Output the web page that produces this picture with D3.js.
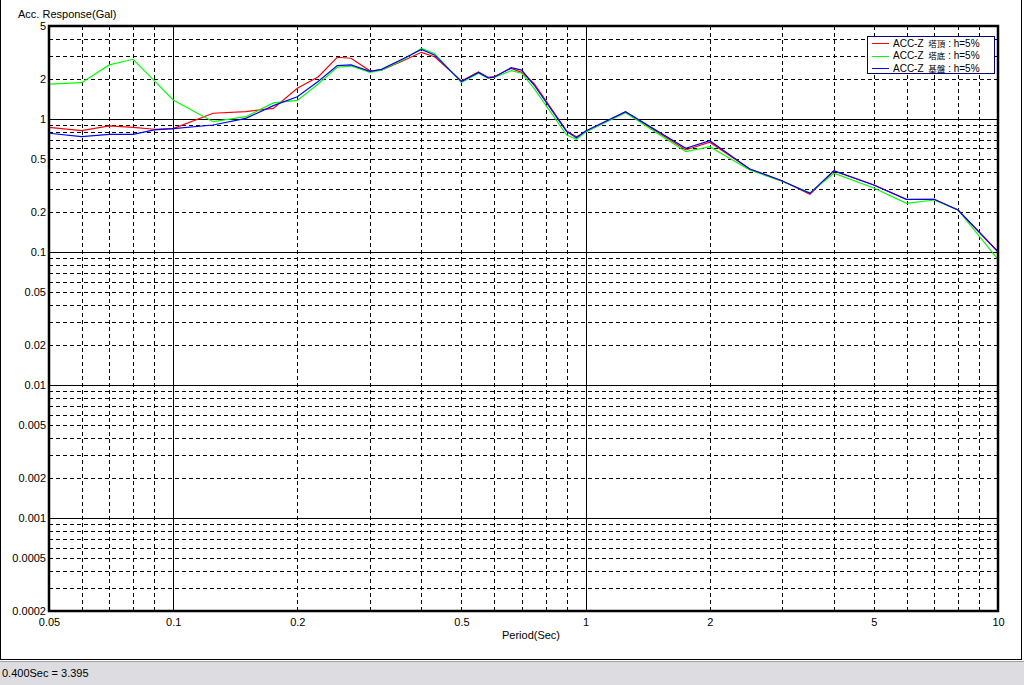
<!DOCTYPE html>
<html>
<head>
<meta charset="utf-8">
<script src="https://cdn.jsdelivr.net/npm/d3@7"></script>
<style>
  html, body { margin: 0; padding: 0; background: #fff; }
  svg { display: block; }
  text { font-family: "Liberation Sans", Arial, sans-serif; font-size: 11px; fill: #000; }
  .cjk { font-family: "Noto Sans CJK JP", sans-serif; }
</style>
</head>
<body>
<svg id="chart" width="1024" height="685"></svg>
<script>
// ---- data ----
const periods = [0.05, 0.06, 0.07, 0.08, 0.09, 0.1, 0.125, 0.15, 0.175, 0.2, 0.225, 0.25, 0.27, 0.3, 0.32, 0.36, 0.4, 0.43, 0.5, 0.55, 0.58, 0.6, 0.66, 0.7, 0.75, 0.9, 0.95, 1.0, 1.25, 1.75, 2.0, 2.5, 3.0, 3.5, 4.0, 5.0, 6.0, 7.0, 8.0, 10.0];
const towerTop = [0.866, 0.817, 0.886, 0.866, 0.837, 0.846, 1.104, 1.135, 1.20, 1.70, 2.08, 2.91, 2.86, 2.30, 2.33, 2.73, 3.17, 2.94, 1.93, 2.26, 2.06, 2.08, 2.40, 2.24, 1.85, 0.812, 0.736, 0.798, 1.13, 0.585, 0.668, 0.421, 0.342, 0.272, 0.407, 0.319, 0.248, 0.249, 0.207, 0.100];
const towerBase = [1.83, 1.875, 2.55, 2.81, 1.94, 1.39, 0.954, 1.04, 1.32, 1.38, 1.84, 2.45, 2.50, 2.24, 2.33, 2.78, 3.395, 3.11, 1.88, 2.21, 2.03, 2.05, 2.31, 2.21, 1.70, 0.758, 0.704, 0.798, 1.115, 0.568, 0.619, 0.414, 0.339, 0.278, 0.391, 0.303, 0.232, 0.246, 0.207, 0.088];
const foundation = [0.781, 0.736, 0.767, 0.767, 0.827, 0.846, 0.901, 1.01, 1.26, 1.47, 1.92, 2.52, 2.55, 2.28, 2.36, 2.82, 3.33, 3.03, 1.91, 2.24, 2.04, 2.06, 2.43, 2.33, 1.80, 0.803, 0.723, 0.812, 1.135, 0.602, 0.687, 0.421, 0.342, 0.276, 0.409, 0.319, 0.249, 0.249, 0.207, 0.1005];
const seriesPrefix = ["ACC-Z ", "ACC-Z ", "ACC-Z "];
const seriesPlace = ["塔頂", "塔底", "基盤"];
const seriesSuffix = [" : h=5%", " : h=5%", " : h=5%"];
const seriesColors = ["#ff0000", "#00ff00", "#0000ff"];
const xTickValues = [0.05, 0.1, 0.2, 0.5, 1, 2, 5, 10];
const xTickLabels = ["0.05", "0.1", "0.2", "0.5", "1", "2", "5", "10"];
const yTickValues = [5, 2, 1, 0.5, 0.2, 0.1, 0.05, 0.02, 0.01, 0.005, 0.002, 0.001, 0.0005, 0.0002];
const yTickLabels = ["5", "2", "1", "0.5", "0.2", "0.1", "0.05", "0.02", "0.01", "0.005", "0.002", "0.001", "0.0005", "0.0002"];
const titleText = "Acc. Response(Gal)";
const xTitleText = "Period(Sec)";
const statusText = "0.400Sec = 3.395";

// ---- layout ----
const svg = d3.select("#chart");
const L = 49, R = 998, T = 26, B = 611;
const x = d3.scaleLog().domain([0.05, 10]).range([L, R]);
const y = d3.scaleLog().domain([0.0002, 5]).range([B, T]);

// window frame
svg.append("rect").attr("x", 0).attr("y", 0).attr("width", 1024).attr("height", 685).attr("fill", "#fff");
svg.append("line").attr("x1", 0.5).attr("x2", 0.5).attr("y1", 0).attr("y2", 659.5).attr("stroke", "#000");
svg.append("line").attr("x1", 1021.5).attr("x2", 1021.5).attr("y1", 0).attr("y2", 659.5).attr("stroke", "#000");
svg.append("line").attr("x1", 0).attr("x2", 1022).attr("y1", 659.5).attr("y2", 659.5).attr("stroke", "#000");
// status bar
svg.append("rect").attr("x", 0).attr("y", 661).attr("width", 1024).attr("height", 24).attr("fill", "#dddde1");
svg.append("line").attr("x1", 0).attr("x2", 1024).attr("y1", 661.5).attr("y2", 661.5).attr("stroke", "#a0a0a0");
svg.append("text").attr("x", 2).attr("y", 677).text(statusText);

// title
svg.append("text").attr("x", 18).attr("y", 18).text(titleText);

// grid
const grid = svg.append("g").attr("shape-rendering", "crispEdges");
function minorValues(lo, hi) {
  const out = [];
  for (let e = -5; e <= 2; e++) {
    for (let m = 1; m <= 9; m++) {
      const v = +(m * Math.pow(10, e)).toPrecision(6);
      if (v > lo * 1.0001 && v < hi * 0.9999) out.push({ v, major: m === 1 });
    }
  }
  return out;
}
minorValues(0.05, 10).forEach(d => {
  const px = Math.round(x(d.v)) + 0.5;
  grid.append("line").attr("x1", px).attr("x2", px).attr("y1", T).attr("y2", B)
    .attr("stroke", "#000").attr("stroke-width", 1)
    .attr("stroke-dasharray", d.major ? null : "4,3");
});
minorValues(0.0002, 5).forEach(d => {
  const py = Math.round(y(d.v)) + 0.5;
  grid.append("line").attr("x1", L).attr("x2", R).attr("y1", py).attr("y2", py)
    .attr("stroke", "#000").attr("stroke-width", 1)
    .attr("stroke-dasharray", d.major ? null : "4,3");
});

// series lines
const lineGen = d3.line().x(d => x(d[0])).y(d => y(d[1]));
[towerTop, towerBase, foundation].forEach((vals, i) => {
  svg.append("path")
    .datum(periods.map((p, j) => [p, vals[j]]))
    .attr("d", lineGen)
    .attr("fill", "none")
    .attr("stroke", seriesColors[i])
    .attr("stroke-width", 1.2);
});

// plot frame
svg.append("rect").attr("x", L).attr("y", T).attr("width", R - L).attr("height", B - T)
  .attr("fill", "none").attr("stroke", "#000").attr("stroke-width", 2.5);

// axes
const yAxis = d3.axisLeft(y).tickValues(yTickValues).tickSize(0).tickPadding(3)
  .tickFormat((d, i) => yTickLabels[i]);
const gy = svg.append("g").attr("transform", `translate(${L},0)`).call(yAxis);
gy.select(".domain").remove();
gy.selectAll("text").style("font-family", "Liberation Sans, Arial, sans-serif").style("font-size", "11px");

const xAxis = d3.axisBottom(x).tickValues(xTickValues).tickSize(0).tickPadding(7)
  .tickFormat((d, i) => xTickLabels[i]);
const gx = svg.append("g").attr("transform", `translate(0,${B})`).call(xAxis);
gx.select(".domain").remove();
gx.selectAll("text").style("font-family", "Liberation Sans, Arial, sans-serif").style("font-size", "11px");

svg.append("text").attr("x", 531).attr("y", 639).attr("text-anchor", "middle").text(xTitleText);

// legend
const lg = svg.append("g");
lg.append("rect").attr("x", 867.5).attr("y", 36.5).attr("width", 127).attr("height", 37)
  .attr("fill", "#fff").attr("stroke", "#000080").attr("stroke-width", 1);
seriesPlace.forEach((n, i) => {
  const yy = 43 + i * 12.5;
  lg.append("line").attr("x1", 872).attr("x2", 889).attr("y1", Math.round(yy) + 0.5).attr("y2", Math.round(yy) + 0.5)
    .attr("stroke", seriesColors[i]).attr("stroke-width", 1);
  const t = lg.append("text").attr("x", 893).attr("y", yy + 3.8).attr("xml:space", "preserve").style("font-size", "10px");
  t.append("tspan").text(seriesPrefix[i]);
  t.append("tspan").attr("class", "cjk").attr("dx", 2).style("font-size", "8.5px").text(n);
  t.append("tspan").text(seriesSuffix[i]);
});
</script>
</body>
</html>
